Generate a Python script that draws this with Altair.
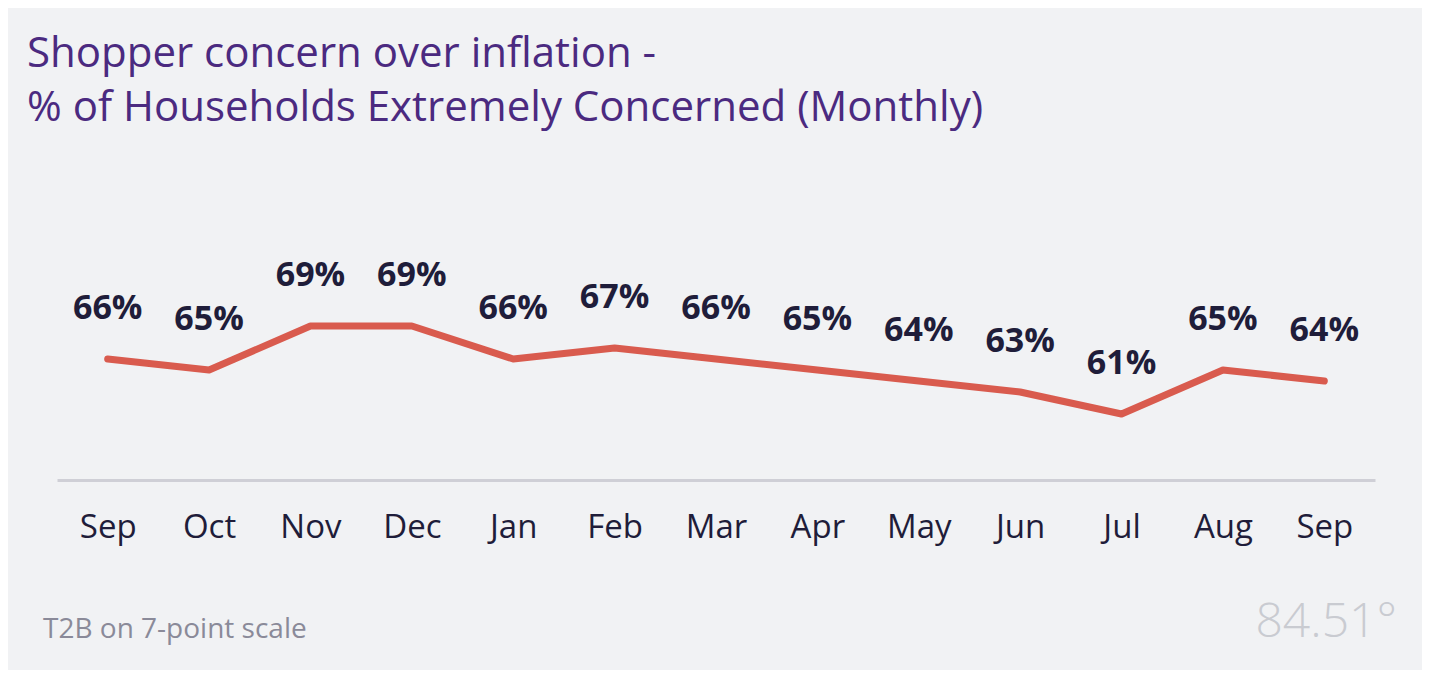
import altair as alt
import pandas as pd

months = ["Sep", "Oct", "Nov", "Dec", "Jan", "Feb", "Mar", "Apr", "May", "Jun", "Jul", "Aug", "Sep "]
values = [66, 65, 69, 69, 66, 67, 66, 65, 64, 63, 61, 65, 64]
labels = [f"{v}%" for v in values]

title_lines = ["Shopper concern over inflation -", "% of Households Extremely Concerned (Monthly)"]
footnote = "T2B on 7-point scale"
logo = "84.51°"

FONT = "Open Sans"
INK = "#1F1D3A"

df = pd.DataFrame({"month": months, "value": values, "label": labels})

x = alt.X("month:N", sort=months, title=None,
          scale=alt.Scale(type="point", padding=0.5),
          axis=alt.Axis(labelExpr="trim(datum.label)", domainColor="#CFCFD6", domainWidth=3,
                        ticks=False, grid=False, labelFontSize=33, labelColor=INK,
                        labelFont=FONT, labelFontWeight="normal", labelPadding=31, labelAngle=0))
y = alt.Y("value:Q", scale=alt.Scale(domain=[55, 85]), axis=None)

base = alt.Chart(df).encode(x=x, y=y)

line = base.mark_line(color="#D95B4E", strokeWidth=7, strokeCap="round", strokeJoin="round")
text = base.mark_text(dy=-50, fontSize=34, fontWeight="bold", color=INK, font=FONT).encode(text="label:N")

one = pd.DataFrame({"a": [0]})
foot = alt.Chart(one).mark_text(text=footnote, align="left", baseline="middle", fontSize=28,
                                color="#8A8A99", font=FONT).encode(x=alt.value(-14), y=alt.value(480))
logo_t = alt.Chart(one).mark_text(text=logo, align="right", baseline="middle", fontSize=48,
                                  fontWeight=300, color="#C9CBD1", font=FONT).encode(
    x=alt.value(1340), y=alt.value(473))

chart = alt.layer(line, text, foot, logo_t).properties(
    width=1318, height=330,
    autosize=alt.AutoSizeParams(type="none"),
    padding={"left": 49, "top": 142, "right": 47, "bottom": 190},
    title=alt.TitleParams(text=title_lines, anchor="start", frame="group", dx=-30, offset=20,
                          fontSize=42, fontWeight="normal", color="#4B2A80", font=FONT,
                          lineHeight=54),
).configure(background="#F1F2F4").configure_view(stroke=None)

chart.save("out.html", embed_options={"renderer": "svg", "actions": False})
